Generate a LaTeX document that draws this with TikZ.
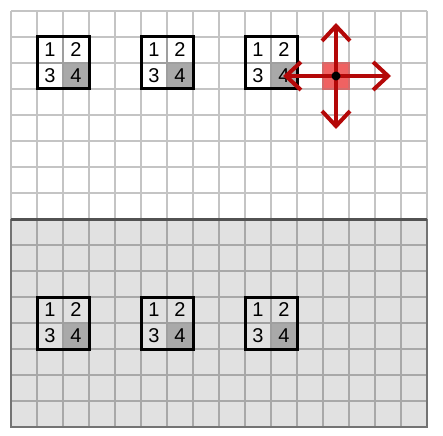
\documentclass[tikz,border=0pt]{standalone}
\usepackage{fontspec}
\setmainfont{Liberation Sans}
\usetikzlibrary{arrows.meta}
\definecolor{gridtop}{HTML}{C4C4C4}
\definecolor{gridbot}{HTML}{A8A8A8}
\definecolor{bggray}{HTML}{E1E1E1}
\definecolor{cellfour}{HTML}{A9A9A9}
\definecolor{redfill}{HTML}{F06262}
\definecolor{redline}{HTML}{B40808}
\newcommand{\cs}{26}
\newcommand{\og}{11}
\tikzset{
  gridlinetop/.style={draw=gridtop, line width=2pt},
  gridlinebot/.style={draw=gridbot, line width=2pt},
  divider/.style={draw=black!68, line width=3pt},
  cellbox/.style={minimum size=26pt, inner sep=0pt, outer sep=0pt, font=\fontsize{20}{20}\selectfont},
  cellline/.style={draw=gray!75, line width=1.6pt},
  boxframe/.style={draw=black, line width=3pt},
  movearrow/.style={draw=redline, line width=4pt, -{Straight Barb[length=15pt,width=28pt,line width=4pt]}},
}
\newcommand{\quadbox}[4]{% col, row, prefix, fill for light cells
  \node[cellbox, fill=#4] (#3a) at ({\og+\cs*(#1+0.5)},{\og+\cs*(#2+0.5)}) {1};
  \node[cellbox, fill=#4] (#3b) at ({\og+\cs*(#1+1.5)},{\og+\cs*(#2+0.5)}) {2};
  \node[cellbox, fill=#4] (#3c) at ({\og+\cs*(#1+0.5)},{\og+\cs*(#2+1.5)}) {3};
  \node[cellbox, fill=cellfour] (#3d) at ({\og+\cs*(#1+1.5)},{\og+\cs*(#2+1.5)}) {4};
  \draw[cellline] (#3a.north east) -- (#3d.south west |- #3d.south);
  \draw[cellline] (#3a.south west) -- (#3d.south east |- #3a.south);
  \draw[boxframe] (#3a.north west) rectangle (#3d.south east);
}
\begin{document}
\begin{tikzpicture}[x=1pt,y=-1pt]
\useasboundingbox (0,0) rectangle (443,435);
% bottom background
\fill[bggray] (\og,{\og+8*\cs}) rectangle ({\og+16*\cs},{\og+16*\cs});
% grid lines
\foreach \i in {0,...,16} {
  \draw[gridlinetop] ({\og+\cs*\i},\og) -- ({\og+\cs*\i},{\og+8*\cs});
  \draw[gridlinebot] ({\og+\cs*\i},{\og+8*\cs}) -- ({\og+\cs*\i},{\og+16*\cs});
}
\foreach \j in {0,...,7} {
  \draw[gridlinetop] (\og,{\og+\cs*\j}) -- ({\og+16*\cs},{\og+\cs*\j});
}
\foreach \j in {9,...,16} {
  \draw[gridlinebot] (\og,{\og+\cs*\j}) -- ({\og+16*\cs},{\og+\cs*\j});
}
% bottom border
\draw[draw=black!55, line width=2pt] (\og,{\og+8*\cs}) -- (\og,{\og+16*\cs}) -- ({\og+16*\cs},{\og+16*\cs}) -- ({\og+16*\cs},{\og+8*\cs});
% divider
\draw[divider] (\og,{\og+8*\cs}) -- ({\og+16*\cs},{\og+8*\cs});
% top boxes
\quadbox{1}{1}{ta}{white}
\quadbox{5}{1}{tb}{white}
\quadbox{9}{1}{tc}{white}
% bottom boxes
\quadbox{1}{11}{ba}{bggray}
\quadbox{5}{11}{bb}{bggray}
\quadbox{9}{11}{bc}{bggray}
% red cell with arrows
\node[minimum size=26pt, inner sep=0pt, fill=redfill, draw=redline!60, line width=1.2pt] (rc) at ({\og+\cs*12.5},{\og+\cs*2.5}) {};
\coordinate (up) at ({\og+\cs*12.5},23);
\coordinate (dn) at ({\og+\cs*12.5},129);
\coordinate (lt) at (283,{\og+\cs*2.5});
\coordinate (rt) at (391,{\og+\cs*2.5});
\draw[movearrow] (rc.center) -- (up);
\draw[movearrow] (rc.center) -- (dn);
\draw[movearrow] (rc.center) -- (lt);
\draw[movearrow] (rc.center) -- (rt);
\fill[black] (rc.center) circle (4.5);
\end{tikzpicture}
\end{document}
